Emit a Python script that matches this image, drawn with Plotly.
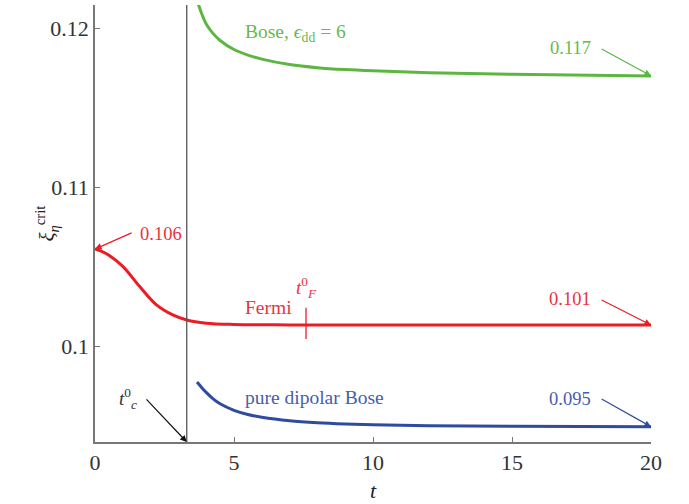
import plotly.graph_objects as go

# ---- data ----
t_fermi = [0, 0.2, 0.5, 1.0, 1.6, 2.2, 2.8, 3.3, 4.0, 5.0, 7.0, 10.0, 15.0, 20.0]
xi_fermi = [0.10615, 0.10603, 0.10575, 0.10505, 0.10380, 0.10265, 0.10200, 0.10168,
            0.10148, 0.10140, 0.10137, 0.10136, 0.10136, 0.10136]

t_bose6 = [3.70, 3.85, 4.0, 4.25, 4.5, 5.0, 5.5, 6.0, 7.0, 8.0, 9.0, 10.0, 12.0, 15.0, 20.0]
xi_bose6 = [0.12162, 0.12088, 0.12028, 0.11968, 0.11925, 0.11868, 0.11833, 0.11808,
            0.11774, 0.11754, 0.11742, 0.11734, 0.11722, 0.11712, 0.11702]

t_dip = [3.67, 3.85, 4.0, 4.25, 4.5, 5.0, 5.5, 6.0, 7.0, 8.0, 9.0, 10.0, 12.0, 15.0, 20.0]
xi_dip = [0.09778, 0.09741, 0.09713, 0.09672, 0.09641, 0.09600, 0.09574, 0.09557,
          0.09535, 0.09522, 0.09514, 0.09509, 0.09503, 0.09500, 0.09497]

t_c0 = 3.30
t_F0 = 7.59
end_labels = ["0.106", "0.117", "0.101", "0.095"]

x_ticks = [0, 5, 10, 15, 20]
y_ticks = [0.1, 0.11, 0.12]
y_tick_text = ["0.1", "0.11", "0.12"]

X_RANGE = [0, 20]
Y_RANGE = [0.09401, 0.12148]

GREEN = "#5cb63f"
RED = "#ec1c24"
BLUE = "#2f4b9f"
GREEN_T = "#66ba4c"
RED_T = "#e8343c"
BLUE_T = "#4560aa"
FONT = "Liberation Serif"

fig = go.Figure()
fig.add_trace(go.Scatter(x=t_bose6, y=xi_bose6, mode="lines",
                         line=dict(color=GREEN, width=3, shape="spline", smoothing=1.0)))
fig.add_trace(go.Scatter(x=t_fermi, y=xi_fermi, mode="lines",
                         line=dict(color=RED, width=3, shape="spline", smoothing=1.0)))
fig.add_trace(go.Scatter(x=t_dip, y=xi_dip, mode="lines",
                         line=dict(color=BLUE, width=3, shape="spline", smoothing=1.0)))

# vertical t_c^0 line
fig.add_shape(type="line", x0=t_c0, x1=t_c0, xref="x", y0=0, y1=1, yref="paper",
              line=dict(color="#555555", width=1.3))
# t_F^0 tick on the Fermi curve
fig.add_shape(type="line", x0=t_F0, x1=t_F0, y0=0.10048, y1=0.10245,
              line=dict(color=RED, width=1.3))

ann = []
def label(x, y, text, color, xanchor="left", size=18.5):
    ann.append(dict(x=x, y=y, text=text, showarrow=False, xanchor=xanchor,
                    yanchor="middle", font=dict(family=FONT, size=size, color=color)))

def arrow(x_head, y_head, x_tail, y_tail, color):
    ann.append(dict(x=x_head, y=y_head, ax=x_tail, ay=y_tail, axref="x", ayref="y",
                    text="", showarrow=True, arrowhead=2, arrowsize=1.1,
                    arrowwidth=1.2, arrowcolor=color, standoff=0))

label(5.32, 0.11969, "Bose, <i>ϵ</i><sub>dd</sub> = 6", GREEN_T, size=19.5)
label(5.32, 0.10246, "Fermi", RED_T, size=19.5)
label(5.32, 0.09678, "pure dipolar Bose", BLUE_T, size=19.5)
label(t_F0, 0.10375, "<i>t</i><sup>0</sup><sub><i>F</i></sub>", RED_T, xanchor="center", size=19)

label(1.55, 0.10708, end_labels[0], RED_T)
arrow(0, 0.10614, 1.37, 0.10720, RED)
label(17.91, 0.11879, end_labels[1], GREEN_T, xanchor="right")
arrow(20, 0.11703, 18.17, 0.11876, GREEN)
label(17.91, 0.10303, end_labels[2], RED_T, xanchor="right")
arrow(20, 0.10136, 18.17, 0.10298, RED)
label(17.91, 0.09672, end_labels[3], BLUE_T, xanchor="right")
arrow(20, 0.09497, 18.17, 0.09676, BLUE)

label(1.18, 0.09672, "<i>t</i><sup>0</sup><sub><i>c</i></sub>", "#333333", xanchor="center", size=19)
arrow(t_c0, Y_RANGE[0], 1.80, 0.09678, "#111111")

# axis titles
ann.append(dict(x=10, xref="x", y=0, yref="paper", yanchor="middle", yshift=-48,
                text="<i>t</i>", showarrow=False,
                font=dict(family=FONT, size=22, color="#222222")))
ann.append(dict(x=-0.117, xref="paper", y=0.10777, yref="y", textangle=-90,
                text="<i>ξ</i><sub><i>η</i></sub><sup>crit</sup>", showarrow=False,
                font=dict(family=FONT, size=21, color="#222222")))

fig.update_layout(
    width=689, height=504,
    margin=dict(l=95, r=38, t=5, b=62),
    plot_bgcolor="white", paper_bgcolor="white",
    showlegend=False,
    annotations=ann,
    font=dict(family=FONT, size=22, color="#333333"),
    xaxis=dict(range=X_RANGE, tickvals=x_ticks, ticks="inside", ticklen=5,
               tickcolor="#777777", showline=True, linecolor="#777777", linewidth=1.5,
               showgrid=False, zeroline=False, automargin=False,
               tickfont=dict(family=FONT, size=22, color="#333333")),
    yaxis=dict(range=Y_RANGE, tickvals=y_ticks, ticktext=y_tick_text, ticks="inside",
               ticklen=5, tickcolor="#777777", showline=True, linecolor="#777777",
               linewidth=1.5, showgrid=False, zeroline=False, automargin=False,
               tickfont=dict(family=FONT, size=22, color="#333333")),
)

fig.write_html("out.html", config={"displayModeBar": False},
               post_script="document.body.style.margin='0';")
